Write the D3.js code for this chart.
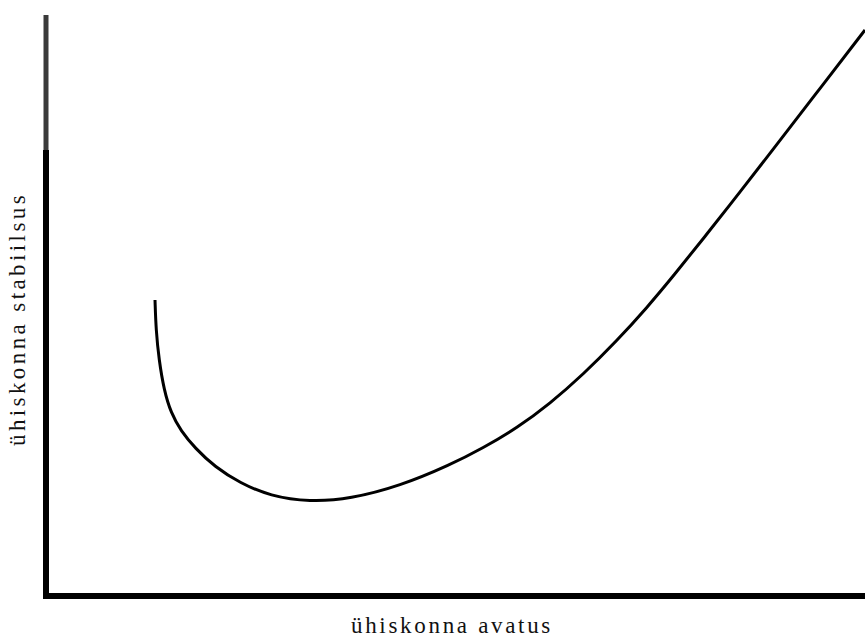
<!DOCTYPE html>
<html><head><meta charset="utf-8">
<script src="https://cdn.jsdelivr.net/npm/d3@7"></script>
<style>body{margin:0;background:#fff}svg{display:block}
.lbl{font-family:"Liberation Serif","DejaVu Serif",Times,serif;fill:#111}</style>
</head><body>
<svg id="c" width="865" height="637"></svg>
<script>
// Data (arbitrary units: openness 0-100, stability 0-100)
const openness  = [13.31,13.43,13.80,14.41,15.26,16.48,18.19,20.63,23.69,27.35,32.23,37.12,43.22,49.33,53.36,57.51,61.54,65.57,69.72,73.38,76.56,80.71,84.74,88.77,93.65,100];
const stability = [50.95,45.78,40.62,35.46,31.50,28.40,25.47,22.20,19.45,17.21,16.18,16.70,18.93,22.55,25.47,28.92,33.12,38.11,43.96,49.64,55.01,62.31,69.54,76.85,85.80,97.42];
const xLabel = "ühiskonna avatus";
const yLabel = "ühiskonna stabiilsus";

const svg = d3.select("#c");
const x = d3.scaleLinear().domain([0,100]).range([46,865]);
const y = d3.scaleLinear().domain([0,100]).range([596,15]);

// axes
svg.append("line").attr("x1",x(0)).attr("x2",x(0)).attr("y1",y(100)).attr("y2",150)
  .attr("stroke","#3a3a3a").attr("stroke-width",5);
svg.append("line").attr("x1",x(0)).attr("x2",x(0)).attr("y1",150).attr("y2",y(0)+3)
  .attr("stroke","#000").attr("stroke-width",6);
svg.append("line").attr("x1",x(0)-3).attr("x2",865).attr("y1",y(0)).attr("y2",y(0))
  .attr("stroke","#000").attr("stroke-width",6);

const pts = openness.map((d,i)=>[d,stability[i]]);
const line = d3.line().x(d=>x(d[0])).y(d=>y(d[1])).curve(d3.curveBasis);
svg.append("path").datum(pts).attr("d",line).attr("fill","none").attr("stroke","#000").attr("stroke-width",3);

function fitText(sel, target){
  const n = sel.text().length;
  const w = sel.node().getComputedTextLength();
  sel.attr("letter-spacing", ((target - w)/n) + "px");
}
const xl = svg.append("text").attr("class","lbl").attr("x",452).attr("y",633).attr("text-anchor","middle")
  .style("font-size","23px").text(xLabel);
fitText(xl, 202);
const yl = svg.append("text").attr("class","lbl").attr("transform","translate(25,319) rotate(-90)").attr("text-anchor","middle")
  .style("font-size","23px").text(yLabel);
fitText(yl, 254);
</script>
</body></html>
